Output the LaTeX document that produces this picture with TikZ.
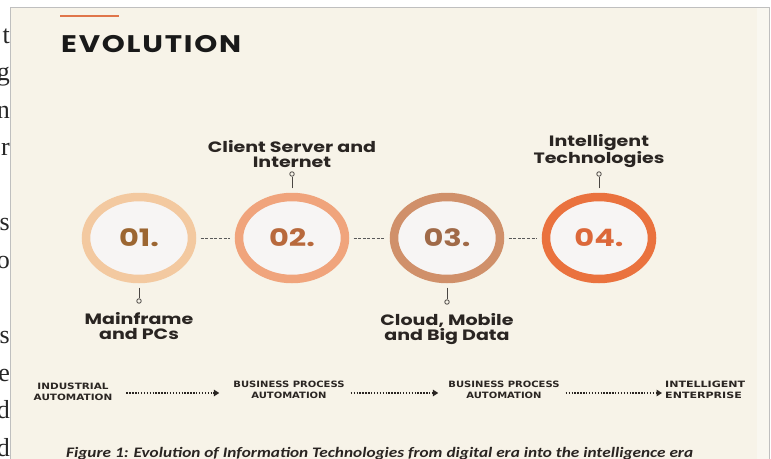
\documentclass[tikz,border=0pt]{standalone}
\usepackage{fontspec}
\usetikzlibrary{shapes.geometric,arrows.meta}
\newfontfamily\pop{Poppins}
\newfontfamily\djv{DejaVu Sans}
\newfontfamily\carl{Carlito}
\newfontfamily\serifpage{Liberation Serif}
\newcommand\wide[2][1.27]{\scalebox{#1}[1]{#2}}
\definecolor{photo}{HTML}{F7F3E8}
\definecolor{inner}{HTML}{F7F5F4}
\definecolor{ringA}{HTML}{F3C9A0}
\definecolor{ringB}{HTML}{F0A47C}
\definecolor{ringC}{HTML}{D0906A}
\definecolor{ringD}{HTML}{EA723E}
\definecolor{numA}{HTML}{9C6631}
\definecolor{numB}{HTML}{B8693C}
\definecolor{numC}{HTML}{A06A48}
\definecolor{numD}{HTML}{DC683A}
\definecolor{ink}{HTML}{2A2522}
\definecolor{accent}{HTML}{E0754A}
\tikzset{
  ring/.style={ellipse, minimum width=106pt, minimum height=82pt, inner sep=0pt,
    line width=8.5pt, fill=inner, font=\pop\bfseries\fontsize{24}{24}\selectfont},
  link/.style={draw=gray!70!black, line width=0.9pt, dash pattern=on 3pt off 1.6pt, shorten <=4.3pt, shorten >=4.3pt},
  stem/.style={draw=ink!85, line width=1pt},
  dot/.style={circle, draw=ink!85, fill=photo, line width=0.8pt, minimum size=4.5pt, inner sep=0pt},
  lbl/.style={align=center, inner sep=0pt, text=ink, font=\pop\bfseries\fontsize{15}{15}\selectfont},
  phase/.style={align=center, inner sep=0pt, text=ink, font=\djv\bfseries\fontsize{8.7}{10.5}\selectfont},
  arr/.style={draw=ink, line width=1.7pt, dash pattern=on 1.4pt off 1.5pt, -{Triangle[length=5.5pt,width=6.5pt]}},
  margin/.style={anchor=base east, inner sep=0pt, text=black!85, font=\serifpage\fontsize{26}{26}\selectfont}
}
\begin{document}
\begin{tikzpicture}[x=1pt,y=-1pt]
\useasboundingbox (0,0) rectangle (771,458);
\fill[white] (0,0) rectangle (771,458);
% cut-off letters of the surrounding page
\node[margin] (m1) at (10,43) {t};
\node[margin] (m2) at (10,80) {g};
\node[margin] (m3) at (10,118) {n};
\node[margin] (m4) at (10,155) {r};
\node[margin] (m5) at (10,230) {s};
\node[margin] (m6) at (10,268) {o};
\node[margin] (m7) at (10,343) {s};
\node[margin] (m8) at (10,381) {e};
\node[margin] (m9) at (10,418) {d};
\node[margin] (m10) at (10,456) {d};
% photo
\fill[photo] (10,7) rectangle (769,462);
\fill[white,opacity=0.35] (757,7) rectangle (769,462);
\draw[black!25, line width=0.8pt] (10,462) -- (10,7) -- (769,7) -- (769,462);
% title
\draw[accent, line width=2pt] (60,16) -- (119,16);
\node[anchor=base west, inner sep=0pt, text=black!90, font=\pop\bfseries\fontsize{24}{24}\selectfont] (title) at (61,52) {\wide[1.22]{\addfontfeature{LetterSpace=6}EVOLUTION}};
% circles
\node[ring, draw=ringA, text=numA] (c1) at (139,238) {\wide{01.}};
\node[ring, draw=ringB, text=numB] (c2) at (292,238) {\wide{02.}};
\node[ring, draw=ringC, text=numC] (c3) at (447,238) {\wide{03.}};
\node[ring, draw=ringD, text=numD] (c4) at (599,238) {\wide{04.}};
\draw[link] (c1.east) -- (c2.west);
\draw[link] (c2.east) -- (c3.west);
\draw[link] (c3.east) -- (c4.west);
% stems
\node[dot] (d1) at (139,301) {};
\node[dot] (d2) at (292,174) {};
\node[dot] (d3) at (447,302) {};
\node[dot] (d4) at (599,174) {};
\draw[stem, shorten <=4.3pt] (c1.south) -- (d1);
\draw[stem, shorten <=4.3pt] (c2.north) -- (d2);
\draw[stem, shorten <=4.3pt] (c3.south) -- (d3);
\draw[stem, shorten <=4.3pt] (c4.north) -- (d4);
% labels
\node[lbl, anchor=north] (l1) at (139,312) {\wide{Mainframe}\\\wide{and PCs}};
\node[lbl, anchor=south] (l2) at (292,168) {\wide{Client Server and}\\\wide{Internet}};
\node[lbl, anchor=north] (l3) at (447,313) {\wide{Cloud, Mobile}\\\wide{and Big Data}};
\node[lbl, anchor=south] (l4) at (599,168) {\wide{Intelligent}\\\wide{Technologies}};
% phases
\node[phase] (b1) at (73,392) {\wide[1.2]{INDUSTRIAL}\\\wide[1.2]{AUTOMATION}};
\node[phase] (b2) at (289,390) {\wide[1.15]{BUSINESS PROCESS}\\\wide[1.15]{AUTOMATION}};
\node[phase] (b3) at (504,390) {\wide[1.15]{BUSINESS PROCESS}\\\wide[1.15]{AUTOMATION}};
\node[phase, align=left, anchor=west] (b4) at (665,390) {\wide[1.27]{INTELLIGENT}\\\wide[1.27]{ENTERPRISE}};
\draw[arr, shorten <=14pt, shorten >=14pt] (b1.east |- 0,393) -- (b2.west |- 0,393);
\draw[arr, shorten <=6pt, shorten >=10pt] (b2.east |- 0,393) -- (b3.west |- 0,393);
\draw[arr, shorten <=6pt, shorten >=3pt] (b3.east |- 0,393) -- (b4.west |- 0,393);
% caption
\node[anchor=base west, inner sep=0pt, text=ink, font=\carl\bfseries\itshape\fontsize{14.5}{14.5}\selectfont] (cap) at (66,457) {\wide[1.19]{Figure 1: Evolution of Information Technologies from digital era into the intelligence era}};
\end{tikzpicture}
\end{document}
